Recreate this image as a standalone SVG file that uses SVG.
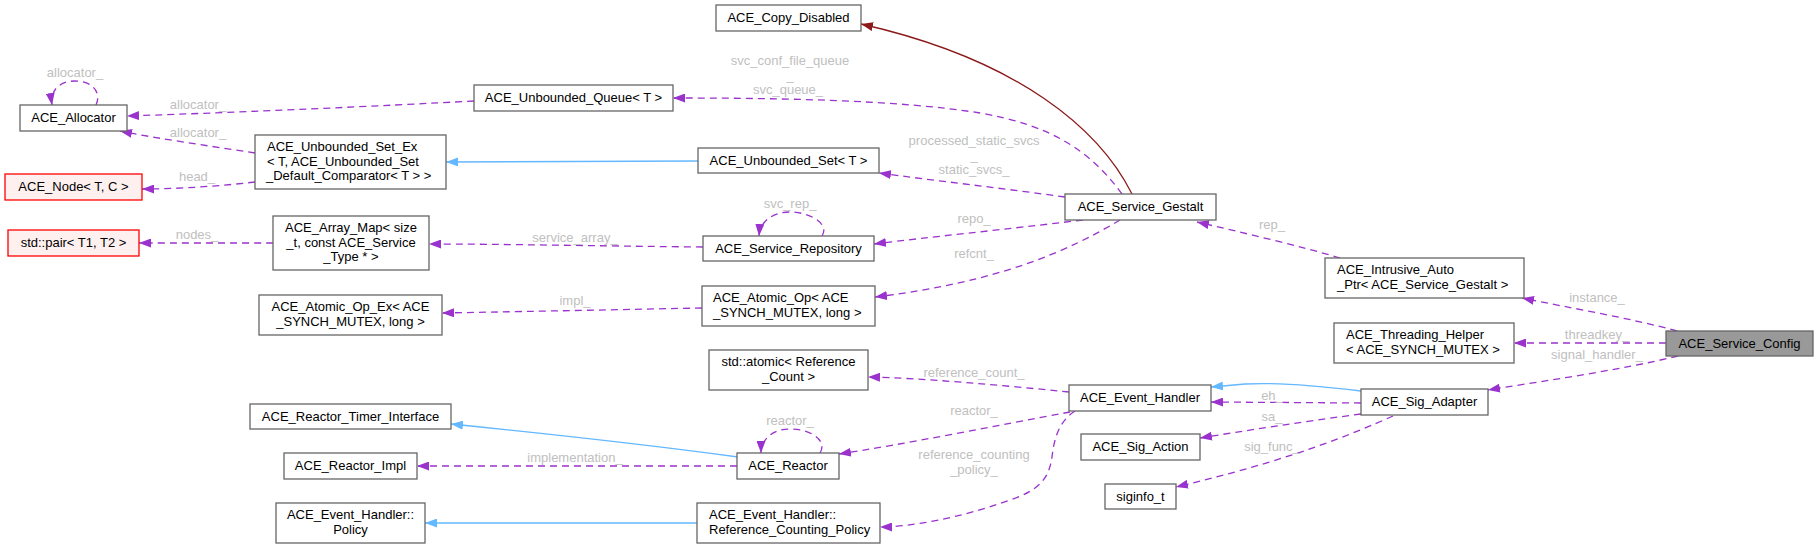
<svg xmlns="http://www.w3.org/2000/svg" width="1819" height="549" viewBox="0 0 1819 549">
<style>
.n rect{fill:#fff;stroke:#666;stroke-width:1.3}
.n.red rect{fill:#fff0f0;stroke:#f00}
.n.cur rect{fill:#999;stroke:#666}
.n text{font-family:"Liberation Sans",Arial,sans-serif;font-size:13px;fill:#000}
.c{text-anchor:middle}
.e path{fill:none;stroke-width:1.3}
.u{stroke:#9a32cd;stroke-dasharray:7,5;marker-end:url(#ap)}
.b{stroke:#63b8ff;marker-end:url(#ab)}
.r{stroke:#8b1a1a;marker-end:url(#ar)}
.l text{font-family:"Liberation Sans",Arial,sans-serif;font-size:13px;fill:#c0c0c0;text-anchor:middle}
</style>
<defs>
<marker id="ap" viewBox="0 0 12 9" markerWidth="12" markerHeight="9" refX="12" refY="4.5" orient="auto" markerUnits="userSpaceOnUse"><path d="M0,0L12,4.5L0,9z" fill="#9a32cd"/></marker>
<marker id="ab" viewBox="0 0 12 9" markerWidth="12" markerHeight="9" refX="12" refY="4.5" orient="auto" markerUnits="userSpaceOnUse"><path d="M0,0L12,4.5L0,9z" fill="#63b8ff"/></marker>
<marker id="ar" viewBox="0 0 12 9" markerWidth="12" markerHeight="9" refX="12" refY="4.5" orient="auto" markerUnits="userSpaceOnUse"><path d="M0,0L12,4.5L0,9z" fill="#8b1a1a"/></marker>
</defs>
<rect width="1819" height="549" fill="#fff"/>
<g id="edges" class="e">
<path class="r" d="M1132,194 C1100,130 1020,60 861,24"/>
<path class="u" d="M1122,194 C1090,150 1050,125 980,113 C900,100 780,98 673,98"/>
<path class="u" d="M1065,197 C1000,188 930,180 879,173"/>
<path class="u" d="M1083,220 C1000,230 930,237 874,244"/>
<path class="u" d="M1120,220 C1070,250 1000,282 875,297"/>
<path class="u" d="M822,236 C830,224 810,212 790,212 C772,212 760,222 759,236"/>
<path class="u" d="M703,247 C600,246 500,244 429,244"/>
<path class="u" d="M474,101 C380,106 250,112 127,116"/>
<path class="u" d="M255,153 C210,146 160,139 120,131"/>
<path class="u" d="M255,182 C220,186 180,189 142,189"/>
<path class="u" d="M273,243 C230,243 180,243 139,243"/>
<path class="u" d="M96,105 C102,92 92,81 75,81 C58,81 50,92 52,105"/>
<path class="b" d="M698,161 L446,162"/>
<path class="u" d="M702,308 C600,310 500,312 442,313"/>
<path class="u" d="M1069,392 C1000,385 920,378 868,377"/>
<path class="u" d="M1070,412 C1000,425 900,445 839,454"/>
<path class="u" d="M1075,411 C1058,422 1054,440 1052,457 C1049,478 1040,490 1010,500 C960,518 910,527 880,527"/>
<path class="u" d="M820,453 C828,440 810,429 790,429 C772,429 761,440 761,453"/>
<path class="b" d="M738,457 C650,445 530,432 451,424"/>
<path class="u" d="M737,466 L417,466"/>
<path class="b" d="M697,523 L425,523"/>
<path class="b" d="M1361,391 C1320,386 1280,382 1245,384 L1211,387"/>
<path class="u" d="M1361,403 L1211,402"/>
<path class="u" d="M1361,414 C1300,422 1250,430 1200,438"/>
<path class="u" d="M1393,416 C1350,435 1290,460 1176,487"/>
<path class="u" d="M1340,258 C1300,246 1240,232 1197,222"/>
<path class="u" d="M1677,331 C1630,318 1570,308 1522,298"/>
<path class="u" d="M1666,343 L1514,343"/>
<path class="u" d="M1678,356 C1620,370 1550,380 1488,390"/>
</g>
<g id="edge-labels" class="l">
<text x="75" y="77">allocator_</text>
<text x="198" y="109">allocator_</text>
<text x="198" y="137">allocator_</text>
<text x="197" y="181">head_</text>
<text x="197" y="239">nodes_</text>
<text x="790" y="65">svc_conf_file_queue</text>
<text x="790" y="80">_</text>
<text x="788" y="94">svc_queue_</text>
<text x="974" y="145">processed_static_svcs</text>
<text x="974" y="160">_</text>
<text x="974" y="174">static_svcs_</text>
<text x="790" y="208">svc_rep_</text>
<text x="575" y="242">service_array_</text>
<text x="974" y="223">repo_</text>
<text x="974" y="258">refcnt_</text>
<text x="575" y="305">impl_</text>
<text x="974" y="377">reference_count_</text>
<text x="974" y="415">reactor_</text>
<text x="790" y="425">reactor_</text>
<text x="575" y="462">implementation_</text>
<text x="974" y="459">reference_counting</text>
<text x="974" y="474">_policy_</text>
<text x="1272" y="229">rep_</text>
<text x="1597" y="302">instance_</text>
<text x="1597" y="339">threadkey_</text>
<text x="1597" y="359">signal_handler_</text>
<text x="1272" y="400">eh_</text>
<text x="1272" y="421">sa_</text>
<text x="1272" y="451">sig_func_</text>
</g>
<g id="ACE_Service_Config" class="n cur"><rect x="1666" y="331" width="147" height="25"/><text class="c" x="1739.5" y="348">ACE_Service_Config</text></g>
<g id="ACE_Intrusive_Auto_Ptr" class="n"><rect x="1325" y="258" width="199" height="40"/><text x="1337" y="274">ACE_Intrusive_Auto</text><text x="1337" y="289">_Ptr&lt; ACE_Service_Gestalt &gt;</text></g>
<g id="ACE_Service_Gestalt" class="n"><rect x="1065" y="194" width="151" height="26"/><text class="c" x="1140.5" y="211">ACE_Service_Gestalt</text></g>
<g id="ACE_Copy_Disabled" class="n"><rect x="716" y="5" width="145" height="26"/><text class="c" x="788.5" y="22">ACE_Copy_Disabled</text></g>
<g id="ACE_Unbounded_Queue" class="n"><rect x="474" y="85" width="199" height="26"/><text class="c" x="573.5" y="102">ACE_Unbounded_Queue&lt; T &gt;</text></g>
<g id="ACE_Allocator" class="n"><rect x="20" y="105" width="107" height="26"/><text class="c" x="73.5" y="122">ACE_Allocator</text></g>
<g id="ACE_Unbounded_Set_Ex" class="n"><rect x="255" y="135" width="191" height="54"/><text x="267" y="151">ACE_Unbounded_Set_Ex</text><text x="267" y="166">&lt; T, ACE_Unbounded_Set</text><text x="266" y="180">_Default_Comparator&lt; T &gt; &gt;</text></g>
<g id="ACE_Node" class="n red"><rect x="5" y="174" width="137" height="26"/><text class="c" x="73.5" y="191">ACE_Node&lt; T, C &gt;</text></g>
<g id="ACE_Unbounded_Set" class="n"><rect x="698" y="148" width="181" height="25"/><text class="c" x="788.5" y="165">ACE_Unbounded_Set&lt; T &gt;</text></g>
<g id="ACE_Service_Repository" class="n"><rect x="703" y="236" width="171" height="25"/><text class="c" x="788.5" y="253">ACE_Service_Repository</text></g>
<g id="ACE_Array_Map" class="n"><rect x="273" y="216" width="156" height="54"/><text class="c" x="351" y="232">ACE_Array_Map&lt; size</text><text class="c" x="351" y="247">_t, const ACE_Service</text><text class="c" x="351" y="261">_Type * &gt;</text></g>
<g id="std_pair" class="n red"><rect x="8" y="230" width="131" height="26"/><text class="c" x="73.5" y="247">std::pair&lt; T1, T2 &gt;</text></g>
<g id="ACE_Atomic_Op" class="n"><rect x="702" y="286" width="173" height="40"/><text x="713" y="302">ACE_Atomic_Op&lt; ACE</text><text x="713" y="317">_SYNCH_MUTEX, long &gt;</text></g>
<g id="ACE_Atomic_Op_Ex" class="n"><rect x="259" y="295" width="183" height="40"/><text class="c" x="350.5" y="311">ACE_Atomic_Op_Ex&lt; ACE</text><text class="c" x="350.5" y="326">_SYNCH_MUTEX, long &gt;</text></g>
<g id="ACE_Threading_Helper" class="n"><rect x="1334" y="323" width="180" height="40"/><text x="1346" y="339">ACE_Threading_Helper</text><text x="1346" y="354">&lt; ACE_SYNCH_MUTEX &gt;</text></g>
<g id="ACE_Sig_Adapter" class="n"><rect x="1361" y="389" width="127" height="26"/><text class="c" x="1424.5" y="406">ACE_Sig_Adapter</text></g>
<g id="ACE_Event_Handler" class="n"><rect x="1069" y="385" width="142" height="26"/><text class="c" x="1140" y="402">ACE_Event_Handler</text></g>
<g id="std_atomic" class="n"><rect x="709" y="350" width="159" height="40"/><text class="c" x="788.5" y="366">std::atomic&lt; Reference</text><text class="c" x="788.5" y="381">_Count &gt;</text></g>
<g id="ACE_Reactor" class="n"><rect x="737" y="453" width="102" height="26"/><text class="c" x="788" y="470">ACE_Reactor</text></g>
<g id="ACE_Reactor_Timer_Interface" class="n"><rect x="250" y="404" width="201" height="25"/><text class="c" x="350.5" y="421">ACE_Reactor_Timer_Interface</text></g>
<g id="ACE_Reactor_Impl" class="n"><rect x="284" y="453" width="133" height="26"/><text class="c" x="350.5" y="470">ACE_Reactor_Impl</text></g>
<g id="ACE_Event_Handler_Reference_Counting_Policy" class="n"><rect x="697" y="503" width="183" height="40"/><text x="709" y="519">ACE_Event_Handler::</text><text x="709" y="534">Reference_Counting_Policy</text></g>
<g id="ACE_Event_Handler_Policy" class="n"><rect x="276" y="503" width="149" height="40"/><text class="c" x="350.5" y="519">ACE_Event_Handler::</text><text class="c" x="350.5" y="534">Policy</text></g>
<g id="ACE_Sig_Action" class="n"><rect x="1081" y="434" width="119" height="26"/><text class="c" x="1140.5" y="451">ACE_Sig_Action</text></g>
<g id="siginfo_t" class="n"><rect x="1105" y="484" width="71" height="25"/><text class="c" x="1140.5" y="501">siginfo_t</text></g>
</svg>
